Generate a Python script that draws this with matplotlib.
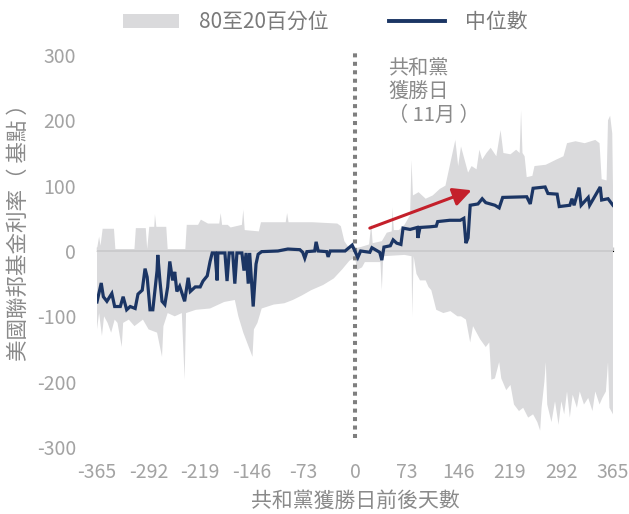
import numpy as np
import matplotlib
matplotlib.use("Agg")
import matplotlib.pyplot as plt
from matplotlib.patches import Patch
from matplotlib.lines import Line2D

plt.rcParams['font.family'] = ['Noto Sans CJK TC', 'DejaVu Sans']
plt.rcParams['axes.unicode_minus'] = False

# 80th percentile (upper edge of band)
up_day = [-365, -362, -360, -357, -341, -339, -312, -310, -296, -294,
          -291, -284, -283, -281, -267, -265, -240, -238, -222, -218,
          -208, -192, -190, -188, -180, -176, -160, -158, -156, -136,
          -133, -98, -96, -94, -60, -25, -20, -15, -8, -3,
          0, 8, 20, 23, 25, 38, 45, 52, 53, 55,
          62, 70, 78, 80, 82, 90, 100, 110, 120, 128,
          132, 138, 142, 146, 150, 155, 160, 165, 172, 176,
          180, 186, 192, 200, 206, 210, 220, 228, 233, 235,
          237, 240, 243, 251, 254, 270, 285, 295, 300, 312,
          325, 340, 346, 349, 356, 358, 361, 364, 365]
up_bp = [3, 22, 8, 34, 34, 3, 3, 35, 35, 3,
         37, 37, 56, 37, 37, 3, 3, 40, 40, 48,
         42, 42, 58, 40, 40, 36, 40, 63, 32, 30,
         44, 44, 58, 44, 44, 42, 38, 15, 4, 8,
         4, 6, 10, 42, 12, 15, 28, 30, 66, 32,
         32, 40, 55, 139, 85, 90, 80, 85, 95, 100,
         120, 150, 170, 130, 160, 140, 120, 130, 125, 155,
         140, 150, 158, 145, 185, 150, 148, 155, 150, 215,
         150, 145, 113, 115, 130, 132, 140, 145, 165, 168,
         165, 170, 165, 110, 108, 200, 207, 180, 100]

# 20th percentile (lower edge of band)
low_day = [-365, -362, -358, -355, -350, -345, -340, -336, -330, -328,
           -320, -312, -300, -292, -280, -273, -271, -265, -255, -245,
           -241, -239, -225, -205, -185, -170, -165, -158, -145, -143,
           -138, -132, -115, -100, -88, -75, -62, -45, -30, -18,
           -8, 0, 3, 10, 14, 36, 38, 40, 70, 80,
           81, 83, 87, 92, 100, 104, 108, 115, 125, 135,
           145, 150, 157, 163, 167, 172, 177, 185, 190, 193,
           198, 204, 207, 214, 220, 225, 232, 238, 245, 252,
           258, 262, 264, 268, 270, 272, 278, 283, 288, 292,
           296, 300, 304, 308, 314, 318, 324, 330, 336, 340,
           346, 350, 355, 358, 360, 365]
low_bp = [-120, -95, -130, -100, -110, -125, -105, -110, -147, -110,
          -105, -115, -105, -120, -125, -162, -115, -95, -100, -95,
          -197, -95, -90, -88, -78, -75, -100, -125, -162, -120,
          -110, -88, -82, -80, -75, -68, -60, -52, -42, -28,
          -15, -10, -29, -25, -17, -17, -60, -8, -6, -8,
          -100, -8, -35, -45, -45, -55, -60, -90, -95, -92,
          -100, -100, -105, -140, -115, -125, -135, -147, -140, -197,
          -195, -170, -195, -213, -205, -235, -245, -240, -255, -250,
          -262, -275, -240, -200, -170, -235, -262, -230, -266, -230,
          -250, -215, -255, -220, -240, -215, -235, -225, -245, -215,
          -235, -225, -215, -170, -240, -250]

# median
med_day = [-365, -359, -356, -351, -344, -340, -332, -328, -323, -318,
           -311, -307, -301, -297, -294, -290, -286, -280, -279, -276,
           -273, -269, -265, -262, -258, -255, -252, -248, -241, -236,
           -233, -226, -219, -215, -209, -205, -202, -198, -195, -194,
           -184, -181, -178, -173, -170, -167, -160, -157, -154, -151,
           -149, -144, -140, -137, -132, -109, -95, -78, -74, -71,
           -68, -57, -55, -52, -40, -38, -35, -14, -4, -1,
           4, 8, 21, 24, 35, 38, 41, 50, 54, 59,
           65, 68, 78, 88, 89, 92, 106, 115, 117, 134,
           149, 154, 157, 160, 163, 174, 180, 185, 198, 204,
           209, 243, 248, 252, 269, 273, 286, 289, 304, 307,
           310, 317, 320, 330, 332, 347, 349, 358, 365]
med_bp = [-78, -49, -70, -77, -65, -85, -85, -70, -90, -85,
          -88, -66, -60, -27, -40, -90, -90, -30, -6, -45,
          -77, -82, -55, -16, -45, -32, -62, -54, -77, -41,
          -62, -55, -55, -46, -38, -16, -3, -3, -45, -3,
          -3, -46, -3, -3, -50, -3, -3, -30, -3, -50,
          -3, -85, -20, -5, -1, 0, 3, 2, -2, -11,
          -1, 0, 14, 0, -1, -9, 0, 0, 9, 2,
          -10, 0, -2, 5, -2, -14, 6, 8, 17, 12,
          10, 35, 33, 36, 20, 36, 37, 38, 45, 47,
          47, 50, 12, 20, 70, 72, 80, 74, 70, 66,
          82, 83, 72, 96, 98, 88, 87, 68, 70, 80,
          70, 97, 70, 82, 70, 98, 78, 80, 70]

xticks = [-365, -292, -219, -146, -73, 0, 73, 146, 219, 292, 365]
yticks = [-300, -200, -100, 0, 100, 200, 300]

band_color = "#dadadc"
navy = "#1b3564"
tick_gray = "#a3a3a3"
label_gray = "#8a8a8a"

fig = plt.figure(figsize=(6.29, 5.14), dpi=100)
ax = fig.add_axes([0.1542, 0.1304, 0.8203, 0.7626])

# band
poly_x = np.concatenate([up_day, low_day[::-1]])
poly_y = np.concatenate([up_bp, low_bp[::-1]])
ax.fill(poly_x, poly_y, color=band_color, lw=0, zorder=1)

# zero line with small ticks
ax.axhline(0, color="#c8c8ca", lw=1.2, zorder=2)
sec = ax.secondary_xaxis(0.5)
sec.set_xticks(xticks)
sec.set_xticklabels([])
sec.tick_params(length=3, color="#c8c8ca", width=1)
sec.spines['bottom'].set_visible(False)

ax.plot(med_day, med_bp, color=navy, lw=2.3, zorder=4, solid_joinstyle='miter')

# election day marker
ax.vlines(0, -287, 305, colors="#7f7f7f", lw=2.9, linestyles=(0, (1, 1.1)),
          zorder=3, clip_on=False)
ax.text(47, 295, "共和黨\n獲勝日\n（ 11月 ）", color=label_gray, fontsize=14.5,
        va="top", ha="left", linespacing=1.15)
ax.annotate("", xy=(165, 93), xytext=(21, 35),
            arrowprops=dict(arrowstyle="-|>,head_length=1.1,head_width=0.55",
                            color="#c4202b", lw=2.2, shrinkA=0, shrinkB=0),
            zorder=5)

ax.set_xlim(-365, 365)
ax.set_ylim(-300, 300)
ax.set_xticks(xticks)
ax.set_xticklabels([str(t) for t in xticks])
ax.set_yticks(yticks)
ax.set_yticklabels([str(t) for t in yticks])
ax.tick_params(axis='x', length=0, pad=11, labelsize=14, labelcolor=tick_gray)
ax.tick_params(axis='y', length=0, pad=15, labelsize=14, labelcolor=tick_gray)
for s in ax.spines.values():
    s.set_visible(False)

ax.set_xlabel("共和黨獲勝日前後天數", fontsize=15, color=label_gray, labelpad=5)
ax.set_ylabel("美國聯邦基金利率（ 基點 ）", fontsize=15.5, color=label_gray)
ax.yaxis.set_label_coords(-0.13, 0.56)

handles = [Patch(facecolor=band_color, edgecolor="none"),
           Line2D([0], [0], color=navy, lw=2.8)]
fig.legend(handles, ["80至20百分位", "中位數"], loc="center",
           bbox_to_anchor=(0.517, 0.957), ncol=2, frameon=False,
           fontsize=15, labelcolor="#7a7a7a", handlelength=2.7,
           handleheight=0.65, handletextpad=0.95, columnspacing=2.9)

fig.savefig("out.png", dpi=100)
